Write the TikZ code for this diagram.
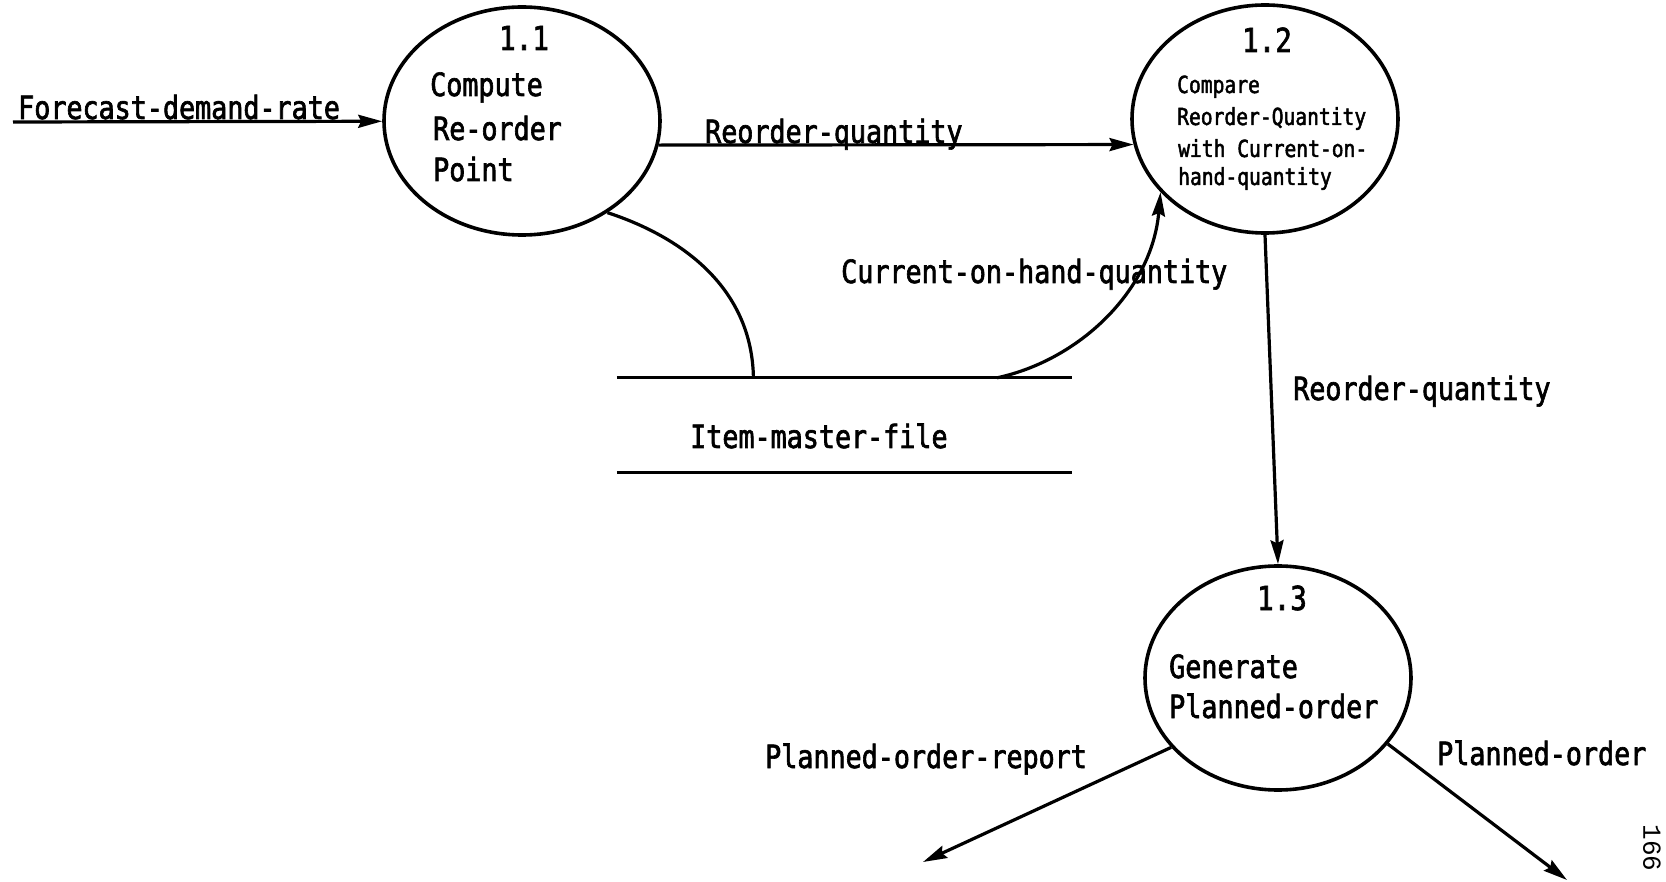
\documentclass[tikz,border=0pt]{standalone}
\usepackage{fontspec}
\newfontfamily\plot[FakeStretch=0.835,FakeBold=2]{DejaVu Sans Mono}
\newfontfamily\pagefont{Liberation Mono}
\usetikzlibrary{shapes.geometric,arrows.meta,calc}

\begin{document}
\begin{tikzpicture}[x=1pt,y=1pt,
  proc/.style={ellipse, draw, line width=3.6pt, inner sep=0pt},
  flow/.style={line width=3.2pt, -{Stealth[length=24pt,width=13pt,inset=3pt]}},
  wire/.style={line width=3.2pt},
  lbl/.style={font=\plot\fontsize{32}{38}\selectfont, inner sep=0pt, anchor=base west},
  small/.style={font=\plot\fontsize{23.5}{28}\selectfont, inner sep=0pt, anchor=base west},
  num/.style={font=\plot\fontsize{33}{38}\selectfont, inner sep=0pt, anchor=base},
]
\useasboundingbox (0,0) rectangle (1666,-882);

% processes
\node[proc, minimum width=276pt, minimum height=228pt] (p11) at (522,-121) {};
\node[proc, minimum width=266pt, minimum height=228pt] (p12) at (1265,-119) {};
\node[proc, minimum width=266pt, minimum height=224pt] (p13) at (1278,-678) {};

% data store
\node[minimum width=455pt, minimum height=94pt, inner sep=0pt] (store) at (844.5,-425) {};
\draw[wire] (store.north west) -- (store.north east)
            (store.south west) -- (store.south east);

\coordinate (s1) at ($(store.north west)!0.30!(store.north east)$);
\coordinate (s2) at ($(store.north west)!0.835!(store.north east)$);
\coordinate (fsrc) at (13,-122);
\coordinate (rep) at (923,-862);
\coordinate (po) at (1567,-880);

% flows
\draw[flow] (fsrc) -- (p11);
\draw[flow] (p11.-10) -- (p12.191);
\draw[wire] (p11.-47) .. controls (685,-238) and (752,-290) .. (s1);
\draw[flow] (s2) .. controls (1080,-360) and (1152,-290) .. (p12.215);
\draw[flow] (p12.south) -- (p13.north);
\draw[flow] (p13.213) -- (rep);
\draw[flow] (p13.-31) -- (po);

% process texts
\node[num] (n11) at (524,-50) {1.1};
\node[lbl] (t11a) at (430,-96) {Compute};
\node[lbl] (t11b) at (433,-140) {Re-order};
\node[lbl] (t11c) at (433,-181) {Point};

\node[num] (n12) at (1267,-52) {1.2};
\node[small] (t12a) at (1177,-93) {Compare};
\node[small] (t12b) at (1177,-125) {Reorder-Quantity};
\node[small] (t12c) at (1178,-157) {with Current-on-};
\node[small] (t12d) at (1178,-185) {hand-quantity};

\node[num] (n13) at (1282,-610) {1.3};
\node[lbl] (t13a) at (1169,-678) {Generate};
\node[lbl] (t13b) at (1169,-718) {Planned-order};

% flow labels
\node[lbl] (fdr) at (18,-119) {Forecast-demand-rate};
\node[lbl] (rq1) at (705,-143) {Reorder-quantity};
\node[lbl] (cohq) at (841,-283) {Current-on-hand-quantity};
\node[lbl] (imf) at (690,-448) {Item-master-file};
\node[lbl] (rq2) at (1293,-400) {Reorder-quantity};
\node[lbl] (por) at (765,-768) {Planned-order-report};
\node[lbl] (pol) at (1437,-765) {Planned-order};

% page number
\node[font=\pagefont\fontsize{26}{30}\selectfont, rotate=-90, inner sep=0pt] (pg) at (1652,-848) {166};
\end{tikzpicture}
\end{document}
